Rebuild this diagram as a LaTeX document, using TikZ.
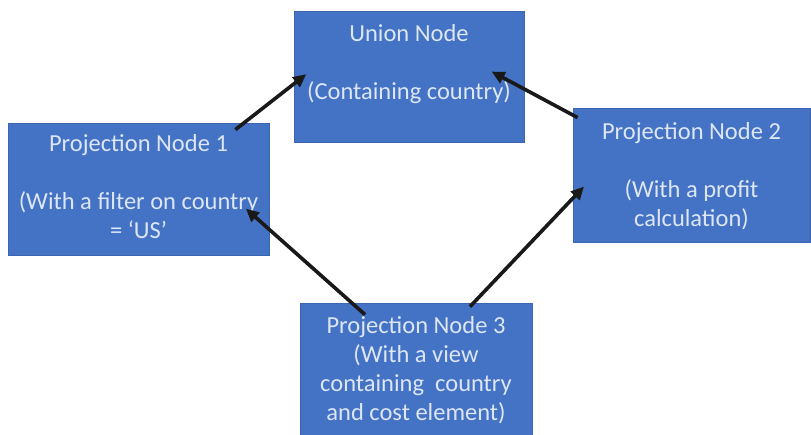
\documentclass[tikz,border=0pt]{standalone}
\usepackage{fontspec}
\setmainfont{Carlito}
\usetikzlibrary{arrows.meta,calc}
\definecolor{boxblue}{HTML}{4472C4}
\definecolor{boxedge}{HTML}{3B65B0}
\definecolor{boxtext}{HTML}{DCE6F4}
\tikzset{
  box/.style={rectangle, fill=boxblue, draw=boxedge, line width=0.8pt, inner sep=0pt},
  txt/.style={text=boxtext, align=center, inner sep=0pt, anchor=base,
    font=\fontsize{24.5pt}{28.7pt}\selectfont},
  conn/.style={line width=3.6pt, draw=black!90, -{Triangle[length=13pt,width=12pt]}, shorten >=-2pt}
}
\begin{document}
\begin{tikzpicture}[x=1pt,y=-1pt]
\clip (0,0) rectangle (811,434);
\fill[white] (0,0) rectangle (811,434);
% boxes
\node[box, minimum width=230pt, minimum height=131pt] (u) at (409,76.5) {};
\node[box, minimum width=261pt, minimum height=132pt] (p1) at (138.5,189) {};
\node[box, minimum width=237pt, minimum height=134pt] (p2) at (691.5,175) {};
\node[box, minimum width=232pt, minimum height=140pt] (p3) at (416,373) {};
% texts (anchor = baseline of the last line)
\node[txt] (ut) at (409,99) {Union Node\\\mbox{}\\(Containing country)};
\node[txt] (p1t) at (138.5,238) {Projection Node 1\\\mbox{}\\(With a filter on country\\= ‘US’};
\node[txt] (p2t) at (691.5,226) {Projection Node 2\\\mbox{}\\(With a profit\\calculation)};
\node[txt] (p3t) at (416,420) {Projection Node 3\\(With a view\\containing\ \ country\\and cost element)};
% connectors
\draw[conn] ($(p1.north east)+(-34,7)$) -- ($(u.west)+(11,-1)$);
\draw[conn] ($(p2.north west)+(5,10)$) -- ($(u.east)+(-31,-4)$);
\draw[conn] ($(p3.north)+(-51,12)$) -- ($(p1.east)+(-22,21)$);
\draw[conn] ($(p3.north)+(54,4)$) -- ($(p2.west)+(10,13)$);
\end{tikzpicture}
\end{document}
